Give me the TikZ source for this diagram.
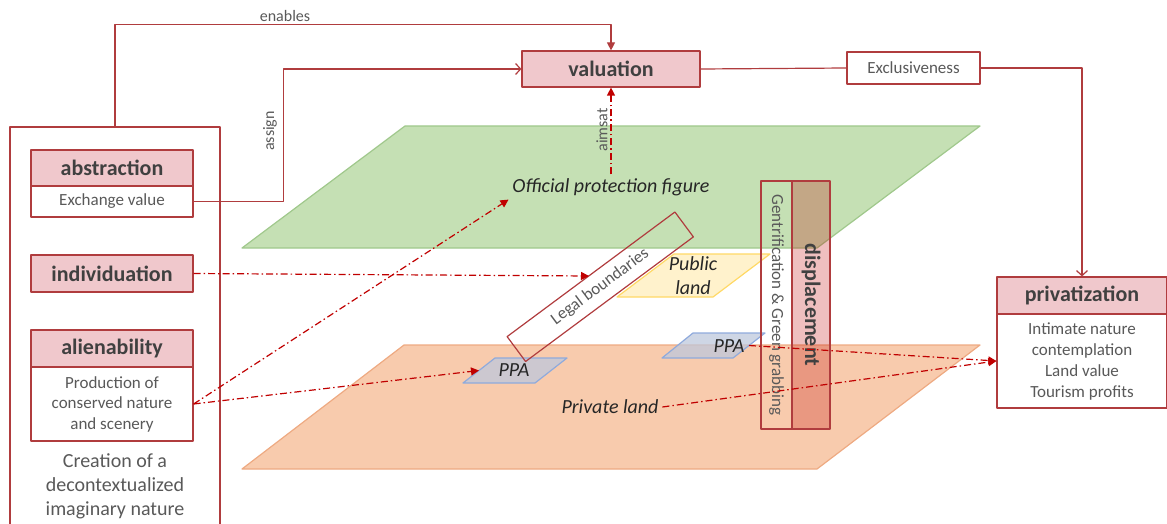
\documentclass[tikz,border=0pt]{standalone}
\usepackage{fontspec}
\setmainfont{Carlito}
\usetikzlibrary{arrows.meta,calc}

\definecolor{boxred}{RGB}{176,60,62}
\definecolor{flowred}{RGB}{192,0,0}
\definecolor{headpink}{RGB}{240,200,204}
\definecolor{txtgray}{RGB}{89,89,89}
\definecolor{txtdark}{RGB}{64,64,64}
\definecolor{planegreen}{RGB}{197,224,180}
\definecolor{edgegreen}{RGB}{160,200,140}
\definecolor{planeorange}{RGB}{248,203,173}
\definecolor{edgeorange}{RGB}{238,170,130}
\definecolor{publicfill}{RGB}{255,242,204}
\definecolor{publicedge}{RGB}{255,217,102}
\definecolor{ppafill}{RGB}{190,200,220}
\definecolor{ppaedge}{RGB}{143,170,220}

\tikzset{
  head/.style={draw=boxred, fill=headpink, text=txtdark, inner sep=0pt,
    font=\fontsize{22}{26}\selectfont\bfseries, minimum width=162pt},
  body/.style={draw=boxred, fill=white, text=txtgray, inner sep=0pt, align=center,
    font=\fontsize{17}{20.5}\selectfont, minimum width=162pt},
  plane/.style={text=black!85, font=\fontsize{20}{24}\selectfont\itshape, align=center},
  tag/.style={text=txtgray, font=\fontsize{16}{19}\selectfont},
  ppa/.style={draw=ppaedge, fill=ppafill, fill opacity=0.75},
  link/.style={draw=boxred},
  flow/.style={draw=flowred, dash pattern=on 7pt off 3pt on 1.5pt off 3pt,
    -{Triangle[length=8pt,width=8pt]}},
  open/.style={-{Straight Barb[length=5pt,width=11pt]}}
}

\begin{document}
\begin{tikzpicture}[x=1pt, y=-1pt, line width=1.2pt, line join=round]
	\useasboundingbox (0,0) rectangle (1167,524);

	% Planes: protection figure (top) and private land (bottom)
	\draw[draw=edgegreen, fill=planegreen] (242,248) -- (405,126) -- (980,126) -- (817,248) -- cycle;
	\draw[draw=edgeorange, fill=planeorange] (242,469) -- (404,345) -- (980,345) -- (817,469) -- cycle;
	\draw[draw=publicedge, fill=publicfill] (617,297) -- (674,254) -- (770,254) -- (713,297) -- cycle;
	\draw[ppa] (463,383) -- (495,358) -- (567,358) -- (535,383) -- cycle;
	\draw[ppa] (662,358) -- (693,333) -- (765,333) -- (733,358) -- cycle;
	\coordinate (ppaAin) at (479,370.5);
	\coordinate (ppaBout) at (749,345.5);
	\coordinate (lbedge) at (589,276);

	% Plane labels
	\node[plane] (official) at (611,187) {Official protection figure};
	\node[plane] (public) at (693,276) {Public\\land};
	\node[plane] (ppaA) at (514,370) {PPA};
	\node[plane] (ppaB) at (729,346) {PPA};
	\node[plane] (private) at (610,407) {Private land};

	% Left column
	\node[draw=boxred, minimum width=210pt, minimum height=413pt] (frame) at (115,333.5) {};
	\node[head, minimum height=36pt] (abstraction) at (112,168) {abstraction};
	\node[body, minimum height=31pt] (exchange) at (112,201.5) {Exchange value};
	\node[head, minimum height=37pt] (individuation) at (112,273.5) {individuation};
	\node[head, minimum height=37pt] (alienability) at (112,348.5) {alienability};
	\node[body, minimum height=74pt] (production) at (112,404) {Production of\\conserved nature\\and scenery};
	\node[text=txtgray, font=\fontsize{20}{24}\selectfont, align=center] (imaginary) at (115,486)
		{Creation of a\\decontextualized\\imaginary nature};

	% Top row and right box
	\node[head, minimum width=178pt, minimum height=36pt] (valuation) at (611,69) {valuation};
	\node[body, minimum width=133pt, minimum height=32pt] (exclusive) at (913.5,68) {Exclusiveness};
	\node[head, minimum width=170pt, minimum height=37pt] (privatization) at (1082,295.5) {privatization};
	\node[body, minimum width=170pt, minimum height=94pt, font=\fontsize{17}{21}\selectfont] (benefits) at (1082,361)
		{Intimate nature\\contemplation\\Land value\\Tourism profits};

	% Vertical bars and legal boundaries
	\node[draw=boxred, rotate=-90, minimum width=248pt, minimum height=31pt, inner sep=0pt,
		text=txtgray, font=\fontsize{17}{20}\selectfont] (gentrification) at (776.5,305)
		{Gentrification \& Green grabbing};
	\node[draw=boxred, fill=flowred, fill opacity=0.25, text opacity=1, rotate=-90,
		minimum width=248pt, minimum height=38pt, inner sep=0pt,
		text=txtdark, font=\fontsize{22}{26}\selectfont\bfseries] (displacement) at (811,305) {displacement};
	\node[draw=boxred, rotate=36.6, minimum width=209pt, minimum height=31pt, inner sep=0pt,
		text=txtgray, font=\fontsize{17}{20}\selectfont] (legal) at (600.25,286.75) {Legal boundaries};

	% Solid links
	\draw[link, -{Triangle[length=8pt,width=8pt]}] (frame.north) -- ++(0,-102) -| (valuation.north);
	\draw[link, open] (exchange.east) -- ++(90,0) |- (valuation.west);
	\draw[link] (valuation.east) -- (exclusive.west);
	\draw[link, open] (exclusive.east) -| (privatization.north);
	\node[tag] (enables) at (285,16) {enables};
	\node[tag, rotate=90] (assign) at (270,131) {assign};
	\node[tag, rotate=90] (aimsat) at (602,130) {aimsat};

	% Dash-dot flows
	\draw[flow] (official.north) -- (valuation.south);
	\draw[flow] (individuation.east) -- (lbedge);
	\draw[flow] (production.east) -- (official.south west);
	\draw[flow] (production.east) -- (ppaAin);
	\draw[flow] (ppaBout) -- (benefits.west);
	\draw[flow] (private.east) -- (benefits.west);
\end{tikzpicture}
\end{document}
